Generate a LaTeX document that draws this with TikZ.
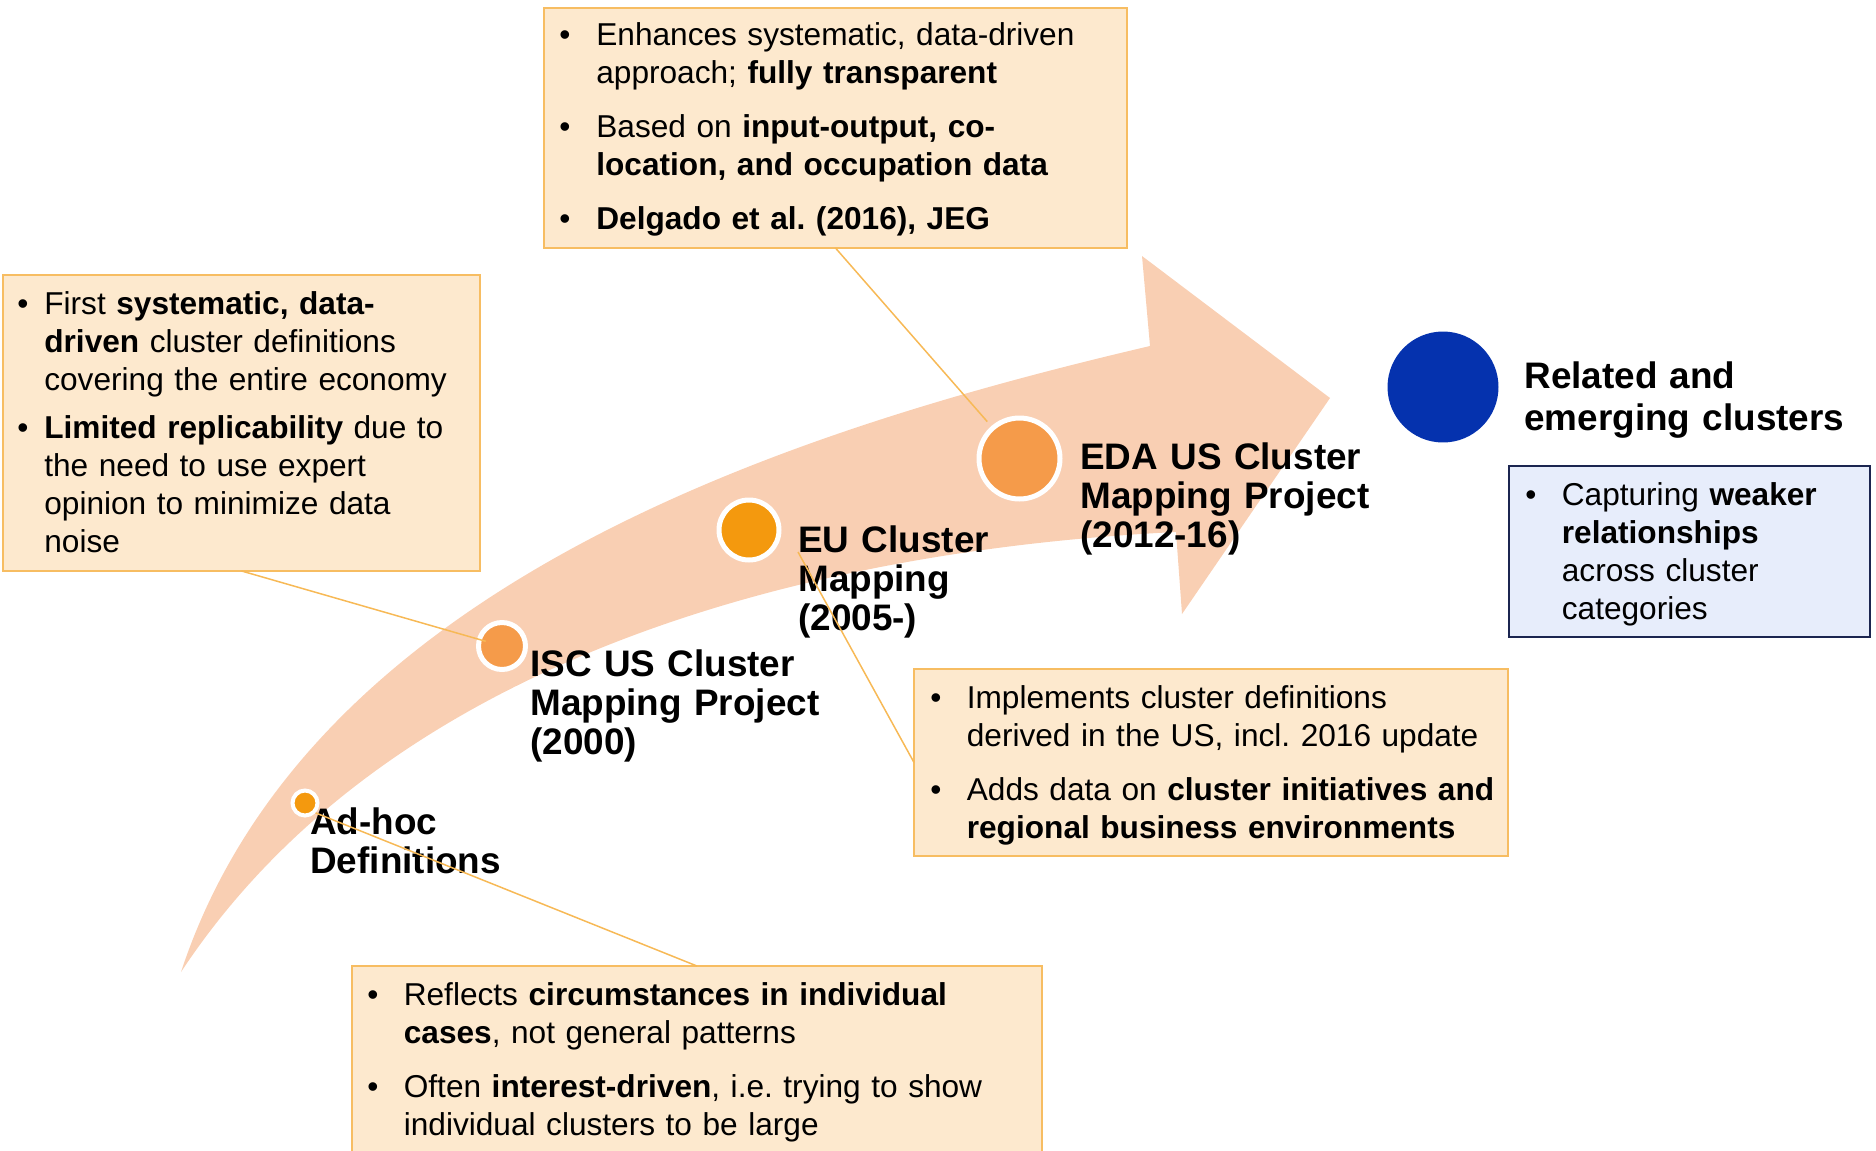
\documentclass[tikz,border=0pt]{standalone}
\usepackage{fontspec}
\setmainfont{Liberation Sans}
\usetikzlibrary{positioning, calc}

\definecolor{arrowpeach}{HTML}{F9CFB3}
\definecolor{notefill}{HTML}{FDE9CE}
\definecolor{noteline}{HTML}{F7BD62}
\definecolor{pinline}{HTML}{F7B956}
\definecolor{dotgold}{HTML}{F4990E}
\definecolor{dotcoral}{HTML}{F59B4A}
\definecolor{dotblue}{HTML}{0532AE}
\definecolor{bluefill}{HTML}{E7EDFB}
\definecolor{blueline}{HTML}{1B2550}

\frenchspacing
\newlength{\bulind}
\newcommand{\bpt}{\hangindent=\bulind\hangafter=1\makebox[\bulind][l]{\textbullet}}

\tikzset{
  notebox/.style={draw=noteline, fill=notefill, line width=0.04cm, anchor=north west, inner sep=0pt, outer sep=0pt},
  notetext/.style={anchor=base west, inner sep=0pt, text width=13cm, align=left, font=\fontsize{18pt}{21.74pt}\selectfont},
  milestone/.style={circle, fill=#1, draw=white, line width=0.1cm, inner sep=0pt},
  milelabel/.style={anchor=base west, inner sep=0pt, text width=8cm, align=left, font=\bfseries\fontsize{21pt}{22.2pt}\selectfont},
  pin/.style={draw=pinline, line width=0.03cm}
}

\begin{document}
\begin{tikzpicture}[x=0.02cm, y=-0.02cm]

  \useasboundingbox (0,0) rectangle (1876,1150);

  \fill[arrowpeach] (181,972) .. controls (310,580) and (800,428) .. (1150,346)
        -- (1142,256) -- (1330,398) -- (1182,614) -- (1176,532)
        .. controls (850,548) and (400,640) .. (181,972) -- cycle;

  \node[notebox, minimum width=9.54cm, minimum height=5.92cm] (lbox) at (3,275) {};
  \node[notebox, minimum width=11.66cm, minimum height=4.8cm] (tbox) at (544,8) {};
  \node[notebox, minimum width=11.88cm, minimum height=3.74cm] (mbox) at (914,669) {};
  \node[notebox, minimum width=13.8cm, minimum height=4cm] (dbox) at (352,966) {};
  \node[notebox, draw=blueline, fill=bluefill, line width=0.05cm, minimum width=7.22cm, minimum height=3.42cm] (bbox) at (1509,466) {};

  \node[notetext] (ltext) at (17,314) {\setlength{\bulind}{0.54cm}\setlength{\parskip}{0.196cm}%
    \bpt First \textbf{systematic, data-}\newline\textbf{driven} cluster definitions\newline covering the entire economy\par
    \bpt \textbf{Limited replicability} due to\newline the need to use expert\newline opinion to minimize data\newline noise\par};
  \node[notetext] (ttext) at (559,45) {\setlength{\bulind}{0.74cm}\setlength{\parskip}{0.316cm}%
    \bpt Enhances systematic, data-driven\newline approach; \textbf{fully transparent}\par
    \bpt Based on \textbf{input-output, co-}\newline\textbf{location, and occupation data}\par
    \bpt \textbf{Delgado et al. (2016), JEG}\par};
  \node[notetext] (mtext) at (930,708) {\setlength{\bulind}{0.73cm}\setlength{\parskip}{0.316cm}%
    \bpt Implements cluster definitions\newline derived in the US, incl. 2016 update\par
    \bpt Adds data on \textbf{cluster initiatives and}\newline\textbf{regional business environments}\par};
  \node[notetext] (dtext) at (367,1005) {\setlength{\bulind}{0.73cm}\setlength{\parskip}{0.316cm}%
    \bpt Reflects \textbf{circumstances in individual}\newline\textbf{cases}, not general patterns\par
    \bpt Often \textbf{interest-driven}, i.e. trying to show\newline individual clusters to be large\par};
  \node[notetext] (btext) at (1525,505) {\setlength{\bulind}{0.73cm}%
    \bpt Capturing \textbf{weaker}\newline\textbf{relationships}\newline across cluster\newline categories\par};

  \node[milestone=dotgold, minimum size=0.5cm, line width=0.08cm] (adhoc) at (305,803) {};
  \node[milestone=dotcoral, minimum size=0.94cm] (isc) at (502,646) {};
  \node[milestone=dotgold, minimum size=1.2cm] (eu) at (749,530) {};
  \node[milestone=dotcoral, minimum size=1.62cm] (eda) at (1019.5,458.5) {};
  \node[circle, fill=dotblue, minimum size=2.22cm, inner sep=0pt] (rel) at (1443,387) {};

  \node[milelabel] (adlab) at (310,834) {Ad-hoc\\Definitions};
  \node[milelabel] (isclab) at (530,676) {ISC US Cluster\\Mapping Project\\(2000)};
  \node[milelabel] (eulab) at (798,552) {EU Cluster\\Mapping\\(2005-)};
  \node[milelabel] (edalab) at (1080,469) {EDA US Cluster\\Mapping Project\\(2012-16)};
  \node[milelabel, font=\bfseries\fontsize{21pt}{23.9pt}\selectfont] (rellab) at (1524,388) {Related and\\emerging clusters};

  \draw[pin, shorten >=0.34cm] (lbox.south) -- (isc.center);
  \draw[pin, shorten >=0.12cm] (tbox.south) -- (eda);
  \draw[pin] (eulab.base west) -- (mbox.west);
  \draw[pin] (adhoc.-43) -- (dbox.north);

\end{tikzpicture}
\end{document}
